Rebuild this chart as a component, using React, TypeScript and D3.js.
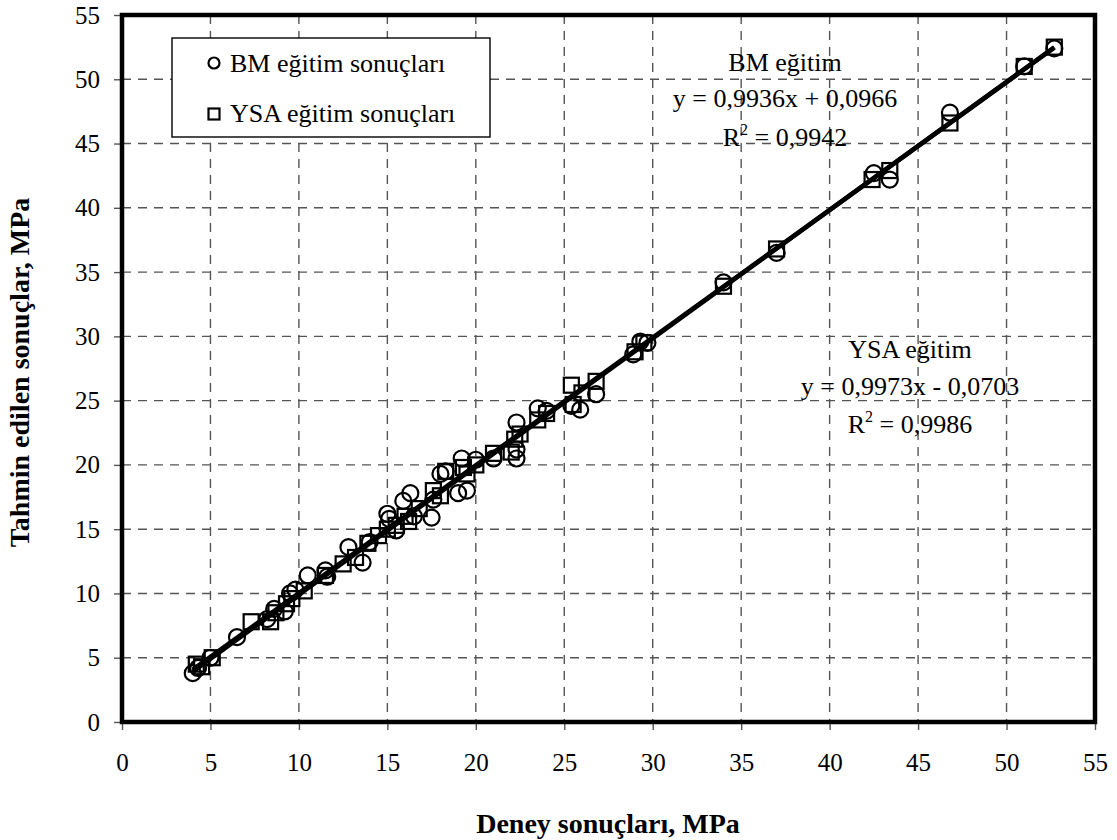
import React, { useEffect, useRef } from 'react';
import * as d3 from 'd3';

// BM eğitim sonuçları (circles)
const bmX = [4.0, 4.3, 5.0, 6.5, 8.2, 8.6, 9.2, 9.5, 9.8, 10.5, 11.5, 11.6, 12.8, 13.6, 14.0, 15.0, 15.1, 15.5, 15.9, 16.3, 16.5, 17.5, 17.6, 18.0, 18.3, 19.2, 19.5, 19.0, 20.0, 21.0, 22.3, 22.3, 22.3, 23.5, 24.0, 25.4, 25.9, 26.8, 28.9, 29.3, 29.7, 34.0, 37.0, 42.5, 43.4, 46.8, 51.0, 52.7];
const bmY = [3.8, 4.2, 5.0, 6.6, 8.0, 8.8, 8.6, 10.0, 10.3, 11.4, 11.8, 11.3, 13.6, 12.4, 14.0, 16.2, 15.8, 14.9, 17.2, 17.8, 16.0, 15.9, 17.3, 19.3, 19.5, 20.5, 18.0, 17.8, 20.4, 20.5, 20.5, 21.2, 23.3, 24.4, 24.2, 24.6, 24.3, 25.5, 28.6, 29.6, 29.5, 34.2, 36.5, 42.7, 42.2, 47.4, 51.0, 52.4];

// YSA eğitim sonuçları (squares)
const ysaX = [4.2, 4.5, 5.1, 7.3, 8.4, 8.7, 9.3, 9.6, 10.3, 11.5, 12.5, 13.2, 13.9, 14.5, 15.0, 15.5, 16.0, 16.2, 16.8, 17.6, 18.0, 18.3, 19.3, 19.5, 20.0, 21.0, 22.0, 22.2, 22.5, 23.5, 24.0, 25.4, 25.5, 26.0, 26.8, 29.0, 29.5, 34.0, 37.0, 42.4, 43.4, 46.8, 51.0, 52.7];
const ysaY = [4.5, 4.3, 5.0, 7.8, 7.8, 8.5, 9.2, 9.6, 10.2, 11.4, 12.3, 12.8, 13.9, 14.5, 15.0, 15.3, 16.0, 15.6, 16.6, 18.0, 17.6, 19.5, 19.8, 19.3, 20.0, 20.9, 21.0, 22.0, 22.4, 23.5, 24.0, 26.2, 24.7, 25.6, 26.5, 28.8, 29.5, 33.9, 36.8, 42.2, 42.9, 46.6, 51.0, 52.5];

// trend lines: slope, intercept
const fits = [
  { slope: 0.9936, intercept: 0.0966 },
  { slope: 0.9973, intercept: -0.0703 },
];
const fitRange = [4.0, 52.7];

const ticks = [0, 5, 10, 15, 20, 25, 30, 35, 40, 45, 50, 55];

export default function App() {
  const ref = useRef<SVGSVGElement>(null);

  useEffect(() => {
    const svg = d3.select(ref.current);
    svg.selectAll('*').remove();
    const font = 'Liberation Serif, Times New Roman, serif';

    const left = 122, right = 1095, top = 15, bottom = 722;
    const x = d3.scaleLinear().domain([0, 55]).range([left, right]);
    const y = d3.scaleLinear().domain([0, 55]).range([bottom, top]);

    // grid
    const grid = svg.append('g');
    ticks.slice(1, -1).forEach(t => {
      grid.append('line')
        .attr('x1', x(t)).attr('x2', x(t)).attr('y1', top).attr('y2', bottom)
        .attr('stroke', '#555').attr('stroke-width', 1.4).attr('stroke-dasharray', '9,7');
      grid.append('line')
        .attr('y1', y(t)).attr('y2', y(t)).attr('x1', left).attr('x2', right)
        .attr('stroke', '#555').attr('stroke-width', 1.4).attr('stroke-dasharray', '9,7');
    });

    // axes
    const xAxis = svg.append('g')
      .attr('transform', `translate(0,${bottom})`)
      .call(d3.axisBottom(x).tickValues(ticks).tickSize(8).tickPadding(23));
    const yAxis = svg.append('g')
      .attr('transform', `translate(${left},0)`)
      .call(d3.axisLeft(y).tickValues(ticks).tickSize(8).tickPadding(14));
    [xAxis, yAxis].forEach(a => {
      a.select('.domain').remove();
      a.selectAll('.tick line').attr('stroke', '#555').attr('stroke-width', 1.4);
      a.selectAll('.tick text').style('font-family', font).style('font-size', '25px').attr('fill', '#000');
    });

    // plot border
    svg.append('rect')
      .attr('x', left).attr('y', top).attr('width', right - left).attr('height', bottom - top)
      .attr('fill', 'none').attr('stroke', '#000').attr('stroke-width', 4.5);

    // trend lines
    fits.forEach(f => {
      svg.append('path')
        .attr('d', d3.line<number>().x(d => x(d)).y(d => y(f.slope * d + f.intercept))(fitRange))
        .attr('stroke', '#000').attr('stroke-width', 4.5).attr('fill', 'none');
    });

    // markers
    const pts = svg.append('g');
    pts.selectAll('circle').data(d3.range(bmX.length)).join('circle')
      .attr('cx', i => x(bmX[i])).attr('cy', i => y(bmY[i])).attr('r', 8)
      .attr('fill', 'none').attr('stroke', '#000').attr('stroke-width', 2.2);
    pts.selectAll('rect').data(d3.range(ysaX.length)).join('rect')
      .attr('x', i => x(ysaX[i]) - 7.5).attr('y', i => y(ysaY[i]) - 7.5)
      .attr('width', 15).attr('height', 15)
      .attr('fill', 'none').attr('stroke', '#000').attr('stroke-width', 2.2);

    // legend
    const lg = svg.append('g').style('font-family', font).style('font-size', '26px');
    lg.append('rect').attr('x', 172).attr('y', 38).attr('width', 318).attr('height', 99)
      .attr('fill', '#fff').attr('stroke', '#000').attr('stroke-width', 1.4);
    lg.append('circle').attr('cx', 214).attr('cy', 63).attr('r', 5.5)
      .attr('fill', 'none').attr('stroke', '#000').attr('stroke-width', 2.2);
    lg.append('rect').attr('x', 208.5).attr('y', 108.5).attr('width', 11).attr('height', 11)
      .attr('fill', 'none').attr('stroke', '#000').attr('stroke-width', 2.2);
    lg.append('text').attr('x', 230).attr('y', 72).text('BM eğitim sonuçları');
    lg.append('text').attr('x', 230).attr('y', 122).text('YSA eğitim sonuçları');

    // equations
    const eq = (cx: number, ys: number[], title: string, eqText: string, r2: string) => {
      const g = svg.append('g').style('font-family', font).style('font-size', '26px').attr('text-anchor', 'middle');
      g.append('text').attr('x', cx).attr('y', ys[0]).text(title);
      g.append('text').attr('x', cx).attr('y', ys[1]).text(eqText);
      const t = g.append('text').attr('x', cx).attr('y', ys[2]);
      t.append('tspan').text('R');
      t.append('tspan').style('font-size', '16px').attr('dy', -11).text('2');
      t.append('tspan').attr('dy', 11).text(' = ' + r2);
    };
    eq(785, [71, 107, 146], 'BM eğitim', 'y = 0,9936x + 0,0966', '0,9942');
    eq(910, [358, 395, 433], 'YSA eğitim', 'y = 0,9973x - 0,0703', '0,9986');

    // axis titles
    svg.append('text').attr('x', 608).attr('y', 833).attr('text-anchor', 'middle')
      .style('font-family', font).style('font-size', '28px').attr('font-weight', 'bold')
      .text('Deney sonuçları, MPa');
    svg.append('text').attr('transform', `translate(29,${(top + bottom) / 2 + 4}) rotate(-90)`)
      .attr('text-anchor', 'middle')
      .style('font-family', font).style('font-size', '28px').attr('font-weight', 'bold')
      .text('Tahmin edilen sonuçlar, MPa');
  }, []);

  return (
    <svg ref={ref} width={1117} height={840}
      style={{ position: 'absolute', left: 0, top: 0, background: '#fff' }} />
  );
}
